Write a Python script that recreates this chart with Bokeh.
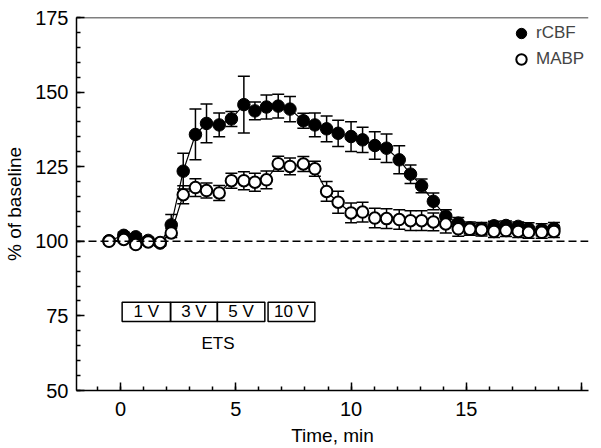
from bokeh.plotting import figure
from bokeh.models import (ColumnDataSource, Whisker, TeeHead, Span, Legend, LegendItem,
                          SingleIntervalTicker, Range1d)
from bokeh.core.properties import value
from bokeh.embed import file_html
from bokeh.resources import INLINE

# ---- data ----
time_min = [-0.5, 0.14, 0.66, 1.2, 1.72, 2.2, 2.72, 3.25, 3.73, 4.28, 4.81, 5.35, 5.83, 6.33,
            6.84, 7.35, 7.93, 8.43, 8.94, 9.44, 10.0, 10.5, 11.03, 11.54, 12.09, 12.58, 13.06,
            13.57, 14.11, 14.65, 15.15, 15.66, 16.2, 16.72, 17.25, 17.7, 18.27, 18.8]
rcbf = [100.2, 102.0, 101.5, 100.3, 99.4, 105.5, 123.5, 135.8, 139.5, 139.0, 141.0, 145.8,
        143.7, 145.0, 145.3, 144.3, 140.4, 139.0, 137.7, 136.2, 135.1, 134.0, 132.1, 131.2,
        127.3, 122.5, 118.6, 113.4, 108.4, 106.1, 104.5, 104.3, 105.2, 105.3, 105.0, 104.2,
        103.9, 104.3]
rcbf_err = [0.5, 1.0, 1.0, 1.0, 1.0, 3.5, 6.0, 8.5, 6.5, 4.0, 2.5, 9.5, 3.0, 4.0, 4.0, 4.2,
            2.5, 4.0, 4.3, 4.4, 5.0, 4.2, 4.6, 4.8, 4.7, 3.1, 2.3, 2.8, 2.2, 1.9, 2.0, 2.0,
            1.5, 1.5, 1.5, 2.0, 2.0, 2.0]
mabp = [100.0, 100.6, 98.9, 99.8, 99.6, 102.8, 115.6, 118.0, 117.0, 116.2, 120.3, 120.3,
        119.8, 120.6, 126.0, 125.1, 125.9, 124.3, 116.7, 113.1, 109.5, 109.8, 107.8, 107.6,
        107.3, 106.9, 106.9, 106.5, 105.8, 104.2, 104.0, 103.8, 103.3, 103.6, 103.3, 103.0,
        103.0, 103.3]
mabp_err = [0.8, 1.0, 1.0, 1.0, 1.0, 1.5, 3.0, 3.0, 2.5, 2.5, 2.5, 3.0, 3.0, 3.0, 2.5, 2.8,
            2.5, 2.5, 3.3, 3.7, 3.3, 3.3, 3.3, 3.3, 3.3, 3.3, 3.3, 3.0, 3.0, 2.5, 2.0, 2.0,
            2.0, 2.0, 2.0, 2.0, 2.0, 2.0]
stim_labels = ["1 V", "3 V", "5 V", "10 V"]
stim_start = [0.07, 2.17, 4.2, 6.4]
stim_end = [2.17, 4.2, 6.26, 8.43]

FONT = "Liberation Sans"

p = figure(frame_width=512, frame_height=373,
           x_range=Range1d(-1.91, 20.3), y_range=Range1d(50, 175),
           output_backend="svg", toolbar_location=None,
           min_border_left=76, min_border_right=1, min_border_top=17, min_border_bottom=56)
p.outline_line_color = None
p.xgrid.grid_line_color = None
p.ygrid.grid_line_color = None
p.background_fill_color = "white"
p.border_fill_color = "white"

# axes
p.xaxis.ticker = SingleIntervalTicker(interval=5, num_minor_ticks=5)
p.yaxis.ticker = SingleIntervalTicker(interval=25, num_minor_ticks=5)
for ax in (p.xaxis[0], p.yaxis[0]):
    ax.axis_line_color = "black"
    ax.axis_line_width = 1.5
    ax.major_tick_in = 8
    ax.major_tick_out = 0
    ax.minor_tick_in = 4
    ax.minor_tick_out = 0
    ax.major_tick_line_width = 1.5
    ax.minor_tick_line_width = 1.5
    ax.major_label_text_font = FONT
    ax.major_label_text_font_size = "20px"
    ax.major_label_text_color = "black"
    ax.axis_label_text_font = FONT
    ax.axis_label_text_font_size = "19px"
    ax.axis_label_text_font_style = "normal"
    ax.axis_label_text_color = "black"
p.xaxis.axis_label = "Time, min"
p.yaxis.axis_label = "% of baseline"
p.xaxis.major_label_overrides = {20: ""}
p.xaxis.major_label_standoff = 11
p.yaxis.major_label_standoff = 8
p.xaxis.axis_label_standoff = 6
p.yaxis.axis_label_standoff = 7

# top frame line and baseline
p.add_layout(Span(location=175, dimension="width", line_color="black", line_width=1.5))
p.add_layout(Span(location=100, dimension="width", line_color="black", line_width=1.5,
                  line_dash="8 4"))

src_c = ColumnDataSource(dict(t=time_min, v=rcbf,
                              up=[a + b for a, b in zip(rcbf, rcbf_err)],
                              lo=[a - b for a, b in zip(rcbf, rcbf_err)]))
src_m = ColumnDataSource(dict(t=time_min, v=mabp,
                              up=[a + b for a, b in zip(mabp, mabp_err)],
                              lo=[a - b for a, b in zip(mabp, mabp_err)]))

for src in (src_c, src_m):
    w = Whisker(source=src, base="t", upper="up", lower="lo", line_color="black", line_width=1.5,
                upper_head=TeeHead(size=12, line_width=1.5, line_color="black"),
                lower_head=TeeHead(size=12, line_width=1.5, line_color="black"))
    p.add_layout(w)

p.line("t", "v", source=src_c, line_color="black", line_width=1.2)
r_c = p.scatter("t", "v", source=src_c, size=12.5, marker="circle",
                fill_color="black", line_color="black")
p.line("t", "v", source=src_m, line_color="black", line_width=1.2)
r_m = p.scatter("t", "v", source=src_m, size=11.5, marker="circle",
                fill_color="white", line_color="black", line_width=2)

# stimulation boxes
box_bottom, box_top = 73.1, 79.6
p.quad(left=stim_start, right=stim_end, bottom=[box_bottom] * 4, top=[box_top] * 4,
       fill_color=None, line_color="black", line_width=1.5)
p.text(x=[(a + b) / 2 for a, b in zip(stim_start, stim_end)], y=[(box_bottom + box_top) / 2] * 4,
       text=stim_labels, text_align="center", text_baseline="middle",
       text_font=value(FONT), text_font_size="17px", text_color="black")
p.text(x=[4.23], y=[65.75], text=["ETS"], text_align="center", text_baseline="middle",
       text_font=value(FONT), text_font_size="17px", text_color="black")

legend = Legend(items=[LegendItem(label="rCBF", renderers=[r_c]),
                       LegendItem(label="MABP", renderers=[r_m])],
                location=(430, 318), margin=0, padding=0, spacing=0,
                glyph_width=30, glyph_height=26, label_height=20, label_standoff=-6,
                label_text_font=FONT, label_text_font_size="17px",
                border_line_color=None, background_fill_alpha=0)
p.add_layout(legend)

open("out.html", "w").write(file_html(p, INLINE))
